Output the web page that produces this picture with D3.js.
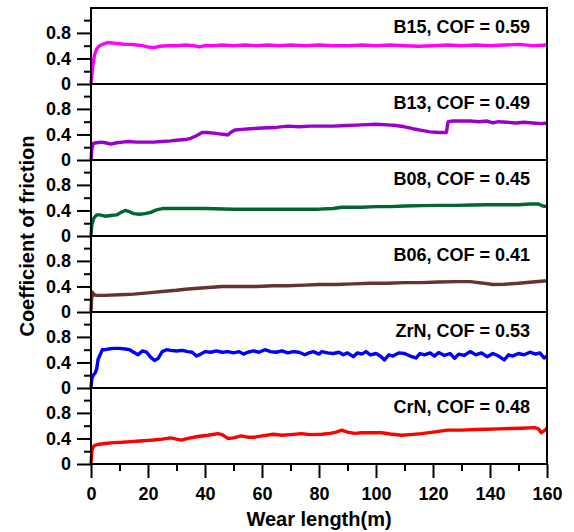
<!DOCTYPE html>
<html>
	<head>
		<script type="text/javascript" src="https://cdn.jsdelivr.net/npm/d3@7"></script>
		<style type="text/css">
			body { margin: 0; background: #fff; }
			svg text {
				font-family: "Liberation Sans", Arial, Helvetica, sans-serif;
				font-weight: bold;
				fill: #000;
			}
			.frame {
				fill: none;
				stroke: #000;
				stroke-width: 2px;
			}
			.axis line { stroke: #000; stroke-width: 2px; }
			.axis path { display: none; }
			.trace {
				fill: none;
				stroke-width: 3.4px;
				stroke-linejoin: round;
			}
		</style>
	</head>
	<body>
		<script type="text/javascript">
			// panel names, top to bottom
			var samples = ["B15", "B13", "B08", "B06", "ZrN", "CrN"];
			var cofValues = [0.59, 0.49, 0.45, 0.41, 0.53, 0.48];
			var colors = ["#ff00ff", "#9900cc", "#006633", "#663333", "#0000ff", "#ff0000"];

			var xTicks = [0, 20, 40, 60, 80, 100, 120, 140, 160];
			var yTicks = [0, 0.4, 0.8];

			// [wear length (m), coefficient of friction]
			var b15 = [[0,0],[0.3,0.15],[0.7,0.3],[1.2,0.45],[2,0.55],[3,0.6],[4.5,0.63],[6,0.65],[8,0.64],[10,0.63],[12,0.62],[14,0.62],[16,0.61],[18,0.6],[20,0.58],[22,0.57],[24,0.59],[27,0.6],[30,0.6],[33,0.61],[36,0.6],[38,0.58],[40,0.6],[43,0.6],[46,0.61],[50,0.6],[54,0.61],[58,0.6],[62,0.61],[66,0.6],[70,0.61],[75,0.6],[80,0.61],[85,0.6],[90,0.6],[95,0.61],[100,0.6],[105,0.61],[110,0.6],[115,0.59],[120,0.6],[125,0.61],[130,0.6],[135,0.61],[140,0.6],[145,0.61],[150,0.62],[155,0.6],[160,0.61]];

			var b13 = [[0,0],[0.3,0.18],[0.8,0.26],[2,0.27],[3.5,0.28],[5,0.27],[7,0.25],[9,0.27],[11,0.28],[13,0.29],[16,0.28],[19,0.28],[22,0.28],[25,0.29],[28,0.3],[30,0.31],[33,0.32],[35,0.34],[37,0.38],[39,0.43],[41,0.43],[43,0.42],[45,0.41],[47,0.4],[48,0.39],[49,0.43],[50.5,0.47],[53,0.48],[56,0.49],[60,0.5],[65,0.51],[69,0.53],[73,0.52],[77,0.53],[81,0.53],[85,0.53],[90,0.54],[95,0.55],[100,0.56],[104,0.55],[107,0.54],[110,0.52],[113,0.49],[116,0.465],[119,0.44],[122,0.43],[124.7,0.43],[125.3,0.6],[127,0.61],[130,0.61],[133,0.61],[136,0.6],[139,0.61],[141,0.58],[143,0.6],[146,0.59],[149,0.58],[152,0.59],[155,0.58],[158,0.57],[160,0.58]];

			var b08 = [[0,0],[0.3,0.18],[1,0.28],[2,0.33],[3,0.33],[5,0.31],[7,0.32],[9,0.33],[10.5,0.37],[12,0.4],[13.5,0.38],[15,0.35],[17,0.34],[19,0.35],[21,0.37],[23,0.41],[25,0.43],[28,0.43],[32,0.43],[40,0.43],[50,0.42],[60,0.42],[70,0.42],[80,0.42],[85,0.43],[88,0.45],[95,0.45],[100,0.46],[105,0.46],[110,0.47],[116,0.475],[122,0.48],[128,0.48],[134,0.485],[139,0.49],[145,0.49],[150,0.49],[154,0.5],[157,0.5],[158.5,0.47],[160,0.46]];

			var b06 = [[0,0],[0.2,0.2],[0.5,0.31],[1,0.27],[2,0.26],[5,0.26],[10,0.27],[15,0.28],[20,0.3],[25,0.32],[30,0.34],[34,0.36],[40,0.38],[46,0.4],[52,0.4],[58,0.4],[64,0.41],[69,0.41],[75,0.42],[80,0.43],[86,0.43],[92,0.44],[98,0.45],[104,0.45],[110,0.46],[116,0.46],[122,0.47],[128,0.475],[133,0.475],[137,0.455],[141,0.43],[145,0.435],[150,0.45],[155,0.47],[160,0.49]];

			var zrn = [[0,0],[0.3,0.15],[0.8,0.2],[1.5,0.24],[2,0.3],[2.5,0.45],[3,0.5],[3.5,0.55],[4,0.6],[5,0.6],[6,0.61],[8,0.62],[10,0.62],[12,0.61],[13.5,0.6],[15,0.56],[16.5,0.52],[18,0.58],[19.5,0.56],[21,0.48],[22.3,0.43],[23.5,0.46],[25,0.57],[26.5,0.6],[28,0.59],[30,0.58],[32,0.59],[34,0.57],[35.5,0.56],[37,0.5],[38.5,0.53],[40,0.57],[42,0.56],[44,0.58],[46,0.56],[48,0.57],[50,0.55],[52,0.57],[53.5,0.53],[55,0.56],[57,0.58],[59,0.56],[61,0.6],[63,0.57],[65,0.56],[67,0.58],[69,0.55],[71,0.57],[73,0.56],[75,0.52],[76.5,0.55],[78,0.57],[80,0.53],[81,0.57],[83,0.55],[85,0.54],[87,0.56],[88.5,0.52],[90,0.55],[92,0.49],[93.5,0.55],[95,0.53],[96.5,0.57],[98,0.52],[100,0.54],[101.5,0.5],[103,0.44],[104.5,0.52],[106,0.5],[108,0.55],[110,0.54],[112,0.5],[114,0.47],[115.5,0.54],[117,0.52],[119,0.55],[120.5,0.5],[122,0.555],[124,0.51],[126,0.54],[127.6,0.465],[129,0.53],[131,0.51],[133,0.57],[135,0.52],[137,0.55],[139,0.49],[141,0.54],[143,0.5],[145,0.44],[146.5,0.52],[148,0.5],[150,0.54],[152,0.52],[154,0.56],[156,0.53],[157.5,0.55],[159,0.47],[160,0.5]];

			var crn = [[0,0],[0.3,0.2],[0.7,0.26],[1.3,0.29],[3,0.31],[5,0.32],[8,0.335],[11,0.34],[14,0.35],[17,0.36],[20,0.37],[22,0.375],[25,0.39],[28,0.41],[30,0.39],[31.7,0.375],[34,0.4],[37.5,0.43],[41,0.45],[44.5,0.475],[46,0.46],[48,0.4],[50,0.41],[52.7,0.44],[55,0.42],[57.4,0.42],[60,0.44],[64,0.465],[67,0.45],[70,0.46],[73.8,0.475],[77,0.46],[81,0.465],[84,0.48],[86,0.5],[88,0.53],[90,0.5],[92.5,0.48],[95,0.49],[98,0.49],[102,0.49],[105,0.47],[109,0.45],[112,0.46],[116,0.475],[120,0.5],[125,0.53],[130,0.53],[135,0.54],[139,0.545],[143,0.55],[147,0.555],[151,0.56],[155.7,0.57],[157,0.55],[158,0.49],[159,0.52],[160,0.56]];

			var traces = [b15, b13, b08, b06, zrn, crn];

			var width = 574, height = 532;
			var plotLeft = 91, plotRight = 547, plotTop = 8;
			var panelH = 76;

			var svg = d3.select("body")
				.append("svg")
				.attr("width", width)
				.attr("height", height);

			var x = d3.scaleLinear()
				.domain([0, 160])
				.range([plotLeft, plotRight]);

			var y = d3.scaleLinear()
				.domain([0, 1.19])
				.range([panelH, 0]);

			var line = d3.line()
				.x(function(d) { return x(d[0]); })
				.y(function(d) { return y(d[1]); });

			samples.forEach(function(name, i) {
				var g = svg.append("g")
					.attr("transform", "translate(0," + (plotTop + i * panelH) + ")");

				// major ticks with labels
				g.append("g")
					.attr("class", "axis")
					.attr("transform", "translate(" + plotLeft + ",0)")
					.call(d3.axisLeft(y).tickValues(yTicks).tickSize(14).tickPadding(6)
						.tickFormat(function(d) { return d === 0 ? "0" : d3.format(".1f")(d); }))
					.selectAll("text")
					.style("font-size", "18px");

				// minor ticks
				g.append("g")
					.attr("class", "axis")
					.attr("transform", "translate(" + plotLeft + ",0)")
					.call(d3.axisLeft(y).tickValues([0.2, 0.6, 1.0]).tickSize(7).tickFormat(""));

				g.append("path")
					.datum(traces[i])
					.attr("class", "trace")
					.attr("stroke", colors[i])
					.attr("d", line);

				g.append("rect")
					.attr("class", "frame")
					.attr("x", plotLeft)
					.attr("y", 0)
					.attr("width", plotRight - plotLeft)
					.attr("height", panelH);

				g.append("text")
					.attr("x", 530)
					.attr("y", 25)
					.attr("text-anchor", "end")
					.style("font-size", "18px")
					.text(name + ", COF = " + cofValues[i].toFixed(2));
			});

			var plotBottom = plotTop + samples.length * panelH;

			svg.append("g")
				.attr("class", "axis")
				.attr("transform", "translate(0," + plotBottom + ")")
				.call(d3.axisBottom(x).tickValues(xTicks).tickSize(14).tickPadding(9))
				.selectAll("text")
				.style("font-size", "18px");

			svg.append("g")
				.attr("class", "axis")
				.attr("transform", "translate(0," + plotBottom + ")")
				.call(d3.axisBottom(x).tickValues(d3.range(10, 160, 20)).tickSize(7).tickFormat(""));

			svg.append("text")
				.attr("x", (plotLeft + plotRight) / 2)
				.attr("y", 526)
				.attr("text-anchor", "middle")
				.style("font-size", "20px")
				.text("Wear length(m)");

			svg.append("text")
				.attr("transform", "translate(34," + (plotTop + samples.length * panelH / 2) + ") rotate(-90)")
				.attr("text-anchor", "middle")
				.style("font-size", "20px")
				.text("Coefficient of friction");
		</script>
	</body>
</html>
